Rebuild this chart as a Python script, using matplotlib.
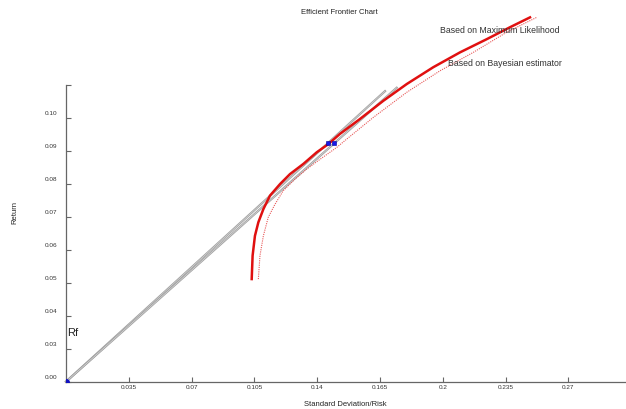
import matplotlib.pyplot as plt
from matplotlib.transforms import ScaledTranslation

plt.rcParams['font.family'] = ['Liberation Sans', 'DejaVu Sans']

# efficient frontier (std dev, return)
ml_risk = [0.1035, 0.1040, 0.1053, 0.1072, 0.1100, 0.1137, 0.1193, 0.1248,
           0.1323, 0.1397, 0.1462, 0.1527, 0.1638, 0.1768, 0.1899, 0.2047,
           0.2196, 0.2345, 0.2474, 0.2586]
ml_ret = [0.0511, 0.0582, 0.0642, 0.0683, 0.0723, 0.0764, 0.0799, 0.0829,
          0.0860, 0.0895, 0.0920, 0.0951, 0.0996, 0.1051, 0.1102, 0.1153,
          0.1198, 0.1238, 0.1274, 0.1304]

bayes_risk = [0.1072, 0.1081, 0.1100, 0.1127, 0.1165, 0.1211, 0.1276, 0.1341,
              0.1416, 0.1509, 0.1564, 0.1713, 0.1899, 0.2084, 0.2270, 0.2456,
              0.2623]
bayes_ret = [0.0511, 0.0582, 0.0642, 0.0698, 0.0738, 0.0779, 0.0814, 0.0844,
             0.0874, 0.0910, 0.0935, 0.1001, 0.1077, 0.1142, 0.1198, 0.1259,
             0.1304]

# tangency portfolios, risk free point, where the CML lines stop
tangent_risk = [0.1460, 0.1496]
tangent_ret = [0.0923, 0.0923]
rf_risk = 0.0
rf_ret = 0.02
cml_end = [0.1778, 0.1843]

xticks = [0.035, 0.07, 0.105, 0.14, 0.175, 0.21, 0.245, 0.28]
xticklabels = ["0.035", "0.07", "0.105", "0.14", "0.165", "0.2", "0.235", "0.27"]
yticks = [0.02, 0.03, 0.04, 0.05, 0.06, 0.07, 0.08, 0.09, 0.10, 0.11]
yticklabels = ["0.00", "0.03", "0.04", "0.05", "0.06", "0.07", "0.08", "0.09", "0.10", ""]

fig = plt.figure(figsize=(6.26, 4.10), dpi=100)
ax = fig.add_axes([66 / 626, 27.3 / 410, 560 / 626, 297 / 410])

# capital market lines from Rf through tangency points (drawn as double lines)
for tr, tt, xe in zip(tangent_risk, tangent_ret, cml_end):
    slope = (tt - rf_ret) / (tr - rf_risk)
    xs = [rf_risk, xe]
    ys = [rf_ret, rf_ret + slope * xe]
    ax.plot(xs, ys, color="#a0a0a0", lw=1.6, clip_on=False, zorder=2)
    ax.plot(xs, ys, color="#e0e0e0", lw=0.4, clip_on=False, zorder=2)

ax.plot(ml_risk, ml_ret, color="#e01010", lw=1.8, clip_on=False, zorder=3,
        solid_joinstyle="round")
ax.plot(bayes_risk, bayes_ret, color="#e85858", lw=0.8, ls=(0, (1, 1)),
        clip_on=False, zorder=3)

ax.plot(tangent_risk, tangent_ret, "s", color="#1818e8", mec="#0000a0",
        mew=0.4, ms=3.4, zorder=4)
ax.plot([rf_risk], [rf_ret], "o", color="#1010c0", ms=4, zorder=4)

ax.set_xlim(0, 0.3121)
ax.set_ylim(0.02, 0.11)
ax.set_xticks(xticks)
ax.set_xticklabels(xticklabels)
ax.set_yticks(yticks)
ax.set_yticklabels(yticklabels)
ax.tick_params(direction="in", length=3.5, width=0.8, colors="#666666",
               labelsize=4.6, labelcolor="#333333")
ax.tick_params(axis="y", pad=6)
ax.tick_params(axis="x", pad=2)

# y labels sit a little above their ticks in the original
for lbl in ax.get_yticklabels():
    lbl.set_transform(lbl.get_transform() + ScaledTranslation(0, 6 / 100, fig.dpi_scale_trans))

for side in ["top", "right"]:
    ax.spines[side].set_visible(False)
for side in ["left", "bottom"]:
    ax.spines[side].set_color("#666666")
    ax.spines[side].set_linewidth(0.9)

ax.text(0.0005, 0.0351, "Rf", fontsize=8, color="#222222", va="center")
ax.text(0.2084, 0.1267, "Based on Maximum Likelihood", fontsize=6.3,
        color="#333333", va="center", clip_on=False)
ax.text(0.2131, 0.1166, "Based on Bayesian estimator", fontsize=6.3,
        color="#333333", va="center", clip_on=False)

fig.text(339 / 626, 1 - 13 / 410, "Efficient Frontier Chart", fontsize=5.5,
         ha="center", va="center", color="#222222")
fig.text(345 / 626, 5 / 410, "Standard Deviation/Risk", fontsize=5.5,
         ha="center", va="center", color="#222222")
fig.text(15 / 626, 1 - 213 / 410, "Return", fontsize=5.5, rotation=90,
         ha="center", va="center", color="#222222")

fig.savefig("out.png", dpi=100)
